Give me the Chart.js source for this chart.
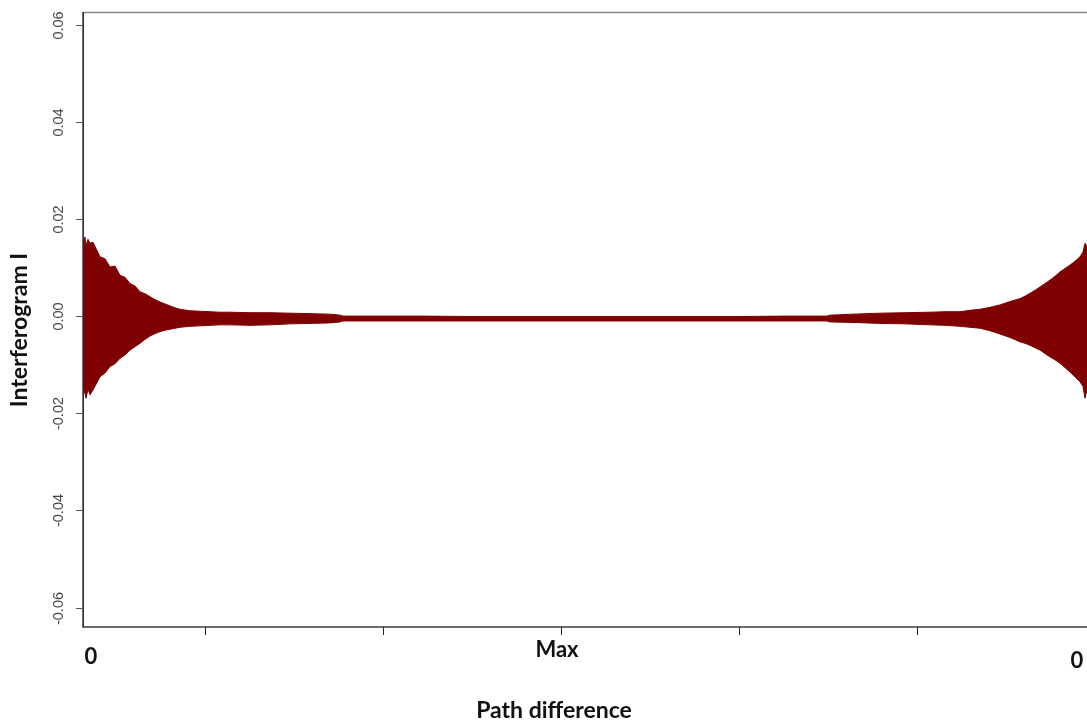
<!DOCTYPE html>
<html lang="en">
<head>
  <meta charset="UTF-8">
  <title>Interferogram</title>

  <!-- Chart.js -->
  <script src="https://cdn.jsdelivr.net/npm/chart.js"></script>

  <style>
    html, body {
      margin: 0;
      padding: 0;
      background: #fff;
    }
    #chartContainer {
      width: 1087px;
      height: 722px;
      position: relative;
    }
  </style>
</head>
<body>

  <div id="chartContainer">
    <canvas id="interferogram"></canvas>
  </div>

  <script>
    // Path difference positions (samples along the scan)
    const opd = [0, 2, 3, 5, 7, 10, 17, 22, 27, 32, 37, 42, 47, 52, 57, 62, 67, 72, 77, 82, 87, 92, 97, 107, 117, 127, 137,
                 147, 167, 187, 207, 227, 247, 257, 260, 290, 340, 400, 478, 540, 600, 650, 700, 744, 747, 770, 797, 822,
                 847, 862, 877, 887, 897, 907, 917, 927, 937, 942, 947, 952, 957, 962, 967, 972, 977, 982, 987, 992, 997,
                 1000, 1002, 1004];

    // Upper and lower envelope of the oscillating signal
    const upper = [0.0138, 0.0163, 0.0145, 0.0158, 0.0150, 0.0152, 0.0122, 0.0118, 0.0101, 0.0103, 0.0084, 0.0080, 0.0067,
                   0.0062, 0.0050, 0.0046, 0.0040, 0.0034, 0.0029, 0.0025, 0.0021, 0.0017, 0.0014, 0.0011, 0.0010, 0.0009,
                   0.0008, 0.0008, 0.0007, 0.0007, 0.0006, 0.0005, 0.0004, 0.0002, 0.0000, 0.0000, 0.0000, -0.0001,
                   -0.0001, -0.0001, -0.0001, -0.0001, 0.0000, 0.0000, 0.0002, 0.0004, 0.0006, 0.0007, 0.0008, 0.0009,
                   0.0009, 0.0012, 0.0014, 0.0018, 0.0023, 0.0030, 0.0036, 0.0041, 0.0047, 0.0053, 0.0060, 0.0067, 0.0074,
                   0.0082, 0.0091, 0.0098, 0.0105, 0.0113, 0.0122, 0.0132, 0.0150, 0.0143];

    const lower = [-0.0145, -0.0160, -0.0169, -0.0150, -0.0162, -0.0152, -0.0125, -0.0117, -0.0104, -0.0098, -0.0087,
                   -0.0080, -0.0070, -0.0063, -0.0056, -0.0048, -0.0041, -0.0036, -0.0032, -0.0029, -0.0027, -0.0025,
                   -0.0023, -0.0021, -0.0020, -0.0019, -0.0018, -0.0018, -0.0019, -0.0018, -0.0016, -0.0015, -0.0014,
                   -0.0012, -0.0010, -0.0010, -0.0010, -0.0010, -0.0010, -0.0010, -0.0010, -0.0010, -0.0010, -0.0010,
                   -0.0012, -0.0013, -0.0015, -0.0016, -0.0018, -0.0019, -0.0021, -0.0023, -0.0025, -0.0030, -0.0037,
                   -0.0044, -0.0053, -0.0056, -0.0060, -0.0065, -0.0070, -0.0077, -0.0084, -0.0090, -0.0097, -0.0106,
                   -0.0115, -0.0125, -0.0135, -0.0145, -0.0169, -0.0152];

    // First sample runs off both ends of the plot
    const firstSample = [0.07, -0.07];

    // Axis ticks and labels
    const yTicks = [-0.06, -0.04, -0.02, 0.00, 0.02, 0.04, 0.06];
    const xTicks = [122, 300, 478, 656, 834];
    const pathLabels = ['0', 'Max', '0'];
    const pathLabelAt = [8, 474, 994];

    const signalColor = '#7f0000';

    const toPoints = (xs, ys) => xs.map((x, i) => ({ x: x, y: ys[i] }));

    // Draws the frame, tick marks and all the text in the R plot style
    const axesPlugin = {
      id: 'rAxes',
      beforeDatasetsDraw(chart) {
        const { ctx, chartArea: a, scales } = chart;
        const ys = scales.y, xs = scales.x;
        ctx.save();

        // top border
        ctx.strokeStyle = '#8a8a8a';
        ctx.lineWidth = 1.5;
        ctx.beginPath();
        ctx.moveTo(a.left, a.top + 0.5);
        ctx.lineTo(a.right, a.top + 0.5);
        ctx.stroke();

        // left and bottom axes
        ctx.strokeStyle = '#3a3a3a';
        ctx.beginPath();
        ctx.moveTo(a.left, a.top);
        ctx.lineTo(a.left, a.bottom);
        ctx.lineTo(a.right, a.bottom);
        ctx.stroke();

        // y ticks and rotated labels
        ctx.lineWidth = 1;
        ctx.strokeStyle = '#555';
        ctx.fillStyle = '#444';
        ctx.font = '14.5px "Liberation Sans", Arial, sans-serif';
        ctx.textAlign = 'center';
        ctx.textBaseline = 'middle';
        yTicks.forEach(v => {
          const py = Math.round(ys.getPixelForValue(v)) + 0.5;
          ctx.beginPath();
          ctx.moveTo(a.left - 7, py);
          ctx.lineTo(a.left, py);
          ctx.stroke();
          ctx.save();
          ctx.translate(59, py);
          ctx.rotate(-Math.PI / 2);
          ctx.fillText(v.toFixed(2), 0, 0);
          ctx.restore();
        });

        // x ticks
        ctx.strokeStyle = '#222';
        xTicks.forEach(v => {
          const px = Math.round(xs.getPixelForValue(v)) + 0.5;
          ctx.beginPath();
          ctx.moveTo(px, a.bottom);
          ctx.lineTo(px, a.bottom + 8);
          ctx.stroke();
        });

        // path labels under the axis
        ctx.fillStyle = '#111';
        ctx.font = 'bold 22px Lato, "Open Sans", sans-serif';
        const labelY = [657, 650, 661];
        pathLabels.forEach((t, i) => {
          ctx.fillText(t, xs.getPixelForValue(pathLabelAt[i]), labelY[i]);
        });

        // axis titles
        ctx.font = 'bold 23px Lato, "Open Sans", sans-serif';
        ctx.fillText('Path difference', 554, 711);
        ctx.save();
        ctx.translate(20, 330);
        ctx.rotate(-Math.PI / 2);
        ctx.fillText('Interferogram I', 0, 0);
        ctx.restore();

        ctx.restore();
      }
    };

    const ctx = document.getElementById('interferogram').getContext('2d');
    const chart = new Chart(ctx, {
      type: 'line',
      data: {
        datasets: [
          {
            label: 'upper',
            data: toPoints(opd, upper),
            borderColor: signalColor,
            backgroundColor: signalColor,
            borderWidth: 1,
            pointRadius: 0,
            tension: 0,
            fill: '+1'
          },
          {
            label: 'lower',
            data: toPoints(opd, lower),
            borderColor: signalColor,
            backgroundColor: signalColor,
            borderWidth: 1,
            pointRadius: 0,
            tension: 0,
            fill: false
          },
          {
            label: 'first sample',
            data: toPoints([0, 0], firstSample),
            borderColor: signalColor,
            borderWidth: 1.5,
            pointRadius: 0,
            fill: false
          }
        ]
      },
      options: {
        responsive: true,
        maintainAspectRatio: false,
        animation: false,
        layout: {
          padding: { left: 83, top: 12, right: 0, bottom: 95 }
        },
        plugins: {
          legend: { display: false },
          tooltip: { enabled: false }
        },
        scales: {
          x: { type: 'linear', display: false, min: 0, max: 1004 },
          y: { type: 'linear', display: false, min: -0.0640, max: 0.0626 }
        }
      },
      plugins: [axesPlugin]
    });
  </script>

</body>
</html>
